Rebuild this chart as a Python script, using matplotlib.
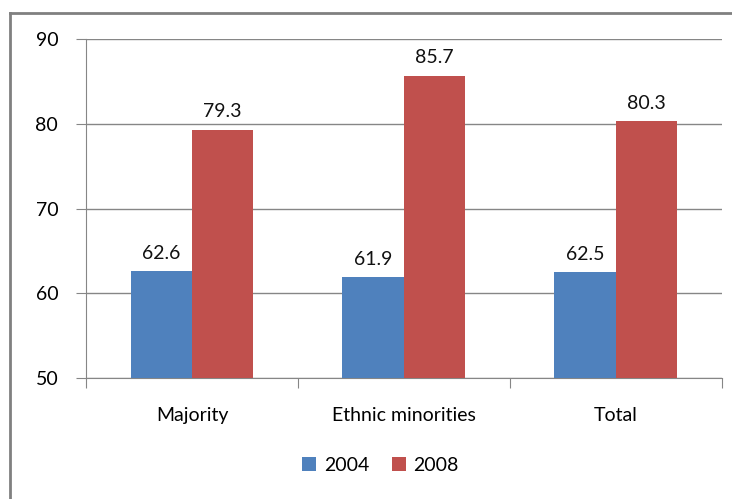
import numpy as np
import matplotlib.pyplot as plt
from matplotlib.lines import Line2D

# Share of population by group, 2004 vs 2008
groups = ['Majority', 'Ethnic minorities', 'Total']
years = ['2004', '2008']
vals_2004 = [62.6, 61.9, 62.5]
vals_2008 = [79.3, 85.7, 80.3]

plt.rcParams['font.family'] = ['Lato', 'DejaVu Sans']
fs = 14

fig = plt.figure(figsize=(7.32, 4.99), dpi=100)
ax = fig.add_axes([0.1175, 0.2425, 0.8685, 0.679])

x = np.arange(len(groups))
w = 0.29
b1 = ax.bar(x - w / 2, vals_2004, w, color='#4f81bd', label=years[0], zorder=3)
b2 = ax.bar(x + w / 2, vals_2008, w, color='#c0504d', label=years[1], zorder=3)

for bars in (b1, b2):
    for bar in bars:
        h = bar.get_height()
        ax.text(bar.get_x() + bar.get_width() / 2, h + 1.1, f'{h:.1f}',
                ha='center', va='bottom', fontsize=fs, color='#111111')

ax.set_ylim(50, 90)
ax.set_xlim(-0.5, 2.5)
ax.set_yticks([50, 60, 70, 80, 90])
ax.yaxis.grid(True, color='#868686', linewidth=1, zorder=0)
ax.set_axisbelow(True)

# category ticks sit on the group boundaries, labels in the middle
ax.set_xticks([-0.5, 0.5, 1.5, 2.5])
ax.set_xticklabels([])
ax.set_xticks(x, minor=True)
ax.set_xticklabels(groups, minor=True, fontsize=fs)
ax.tick_params(axis='x', which='major', length=7, color='#868686')
ax.tick_params(axis='x', which='minor', length=0, pad=21)
ax.tick_params(axis='y', length=7, color='#868686', labelsize=fs, pad=13)

for side in ('top', 'right'):
    ax.spines[side].set_visible(False)
for side in ('left', 'bottom'):
    ax.spines[side].set_color('#868686')

fig.legend(loc='center', bbox_to_anchor=(0.52, 0.068), ncol=2, frameon=False,
           fontsize=fs, handlelength=0.7, handleheight=0.7,
           handletextpad=0.4, columnspacing=1.2)

# outer chart frame
fig.add_artist(Line2D([10 / 732, 10 / 732], [0, 1 - 13 / 499],
                      transform=fig.transFigure, color='#808080', linewidth=2))
fig.add_artist(Line2D([10 / 732, 1], [1 - 13 / 499, 1 - 13 / 499],
                      transform=fig.transFigure, color='#808080', linewidth=2))

fig.savefig('out.png', dpi=100)
